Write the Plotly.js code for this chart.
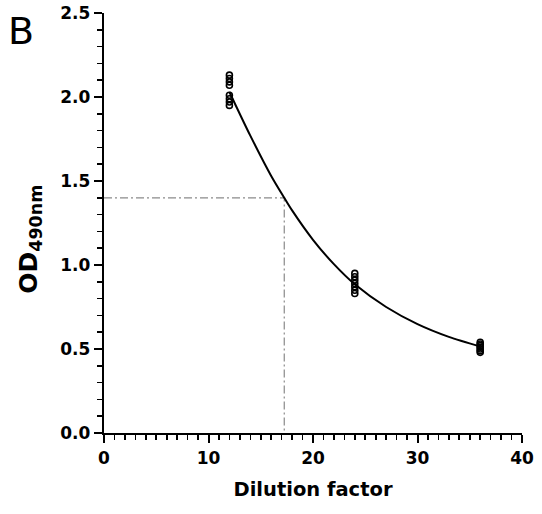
<!DOCTYPE html>
<html>
<head>
<meta charset="utf-8">
<script src="https://cdn.plot.ly/plotly-3.0.1.min.js"></script>
<style>html,body{margin:0;padding:0;background:#fff;}#chart{width:542px;height:514px;}</style>
</head>
<body>
<div id="chart"></div>
<script>
// Replicate measurements (OD490nm) at each dilution factor
const dil12 = [2.13, 2.11, 2.09, 2.07, 2.01, 1.99, 1.97, 1.95];
const dil24 = [0.95, 0.93, 0.91, 0.89, 0.87, 0.85, 0.83];
const dil36 = [0.54, 0.53, 0.52, 0.51, 0.50, 0.49, 0.48];
const dilutions = [12, 24, 36];

// Fitted curve
const curveX = [12, 14, 16, 17.25, 18, 20, 22, 24, 27, 30, 33, 36];
const curveY = [2.03, 1.77, 1.53, 1.40, 1.325, 1.15, 1.005, 0.885, 0.75, 0.648, 0.572, 0.515];

// Reference (interpolation) lines
const refX = [0, 17.25, 17.25];
const refY = [1.40, 1.40, 0];

const xTicks = [0, 10, 20, 30, 40];
const yTicks = [0, 0.5, 1.0, 1.5, 2.0, 2.5];

const ptsX = [], ptsY = [];
[dil12, dil24, dil36].forEach((arr, i) => arr.forEach(v => { ptsX.push(dilutions[i]); ptsY.push(v); }));

const FONT = 'DejaVu Sans, Liberation Sans, Arial, sans-serif';

const traces = [
  {x: refX, y: refY, type: 'scatter', mode: 'lines',
   line: {color: '#8a8a8a', width: 1.2, dash: '8px,3px,2px,3px'}, hoverinfo: 'skip'},
  {x: curveX, y: curveY, type: 'scatter', mode: 'lines',
   line: {color: '#000', width: 2, shape: 'spline', smoothing: 0.8}},
  {x: ptsX, y: ptsY, type: 'scatter', mode: 'markers',
   marker: {symbol: 'circle-open', size: 6, color: '#000', line: {width: 1.6, color: '#000'}}}
];

const axisCommon = {
  showgrid: false, zeroline: false, showline: true, linecolor: '#000', linewidth: 2.2,
  ticks: 'outside', ticklen: 8, tickwidth: 2, tickcolor: '#000',
  tickfont: {family: FONT, size: 17, color: '#000', weight: 'bold'},
  mirror: false
};

const layout = {
  width: 542, height: 514,
  margin: {l: 104, r: 20, t: 13, b: 81},
  paper_bgcolor: '#fff', plot_bgcolor: '#fff',
  showlegend: false,
  font: {family: FONT, color: '#000'},
  xaxis: Object.assign({}, axisCommon, {
    range: [0, 40], tickvals: xTicks, ticktext: xTicks.map(String),
    minor: {dtick: 1, ticks: 'outside', ticklen: 5, tickwidth: 1.6, tickcolor: '#000'},
    title: {text: 'Dilution factor', font: {family: FONT, size: 19.5, weight: 'bold', color: '#000'}, standoff: 16}
  }),
  yaxis: Object.assign({}, axisCommon, {
    range: [0, 2.5], tickvals: yTicks, ticktext: yTicks.map(v => v.toFixed(1)),
    minor: {dtick: 0.1, ticks: 'outside', ticklen: 5, tickwidth: 1.6, tickcolor: '#000'}
  }),
  annotations: [{
    text: 'B', xref: 'paper', yref: 'paper', x: -0.235, y: 1.015, xanchor: 'left', yanchor: 'top',
    showarrow: false, font: {family: FONT, size: 38, color: '#000'}
  }, {
    text: '<b>OD<sub>490nm</sub></b>', xref: 'paper', yref: 'paper', x: -0.177, y: 0.46,
    xanchor: 'center', yanchor: 'middle', textangle: -90, showarrow: false,
    font: {family: FONT, size: 25, weight: 'bold', color: '#000'}
  }]
};

Plotly.newPlot('chart', traces, layout, {displayModeBar: false, staticPlot: true});
</script>
</body>
</html>
